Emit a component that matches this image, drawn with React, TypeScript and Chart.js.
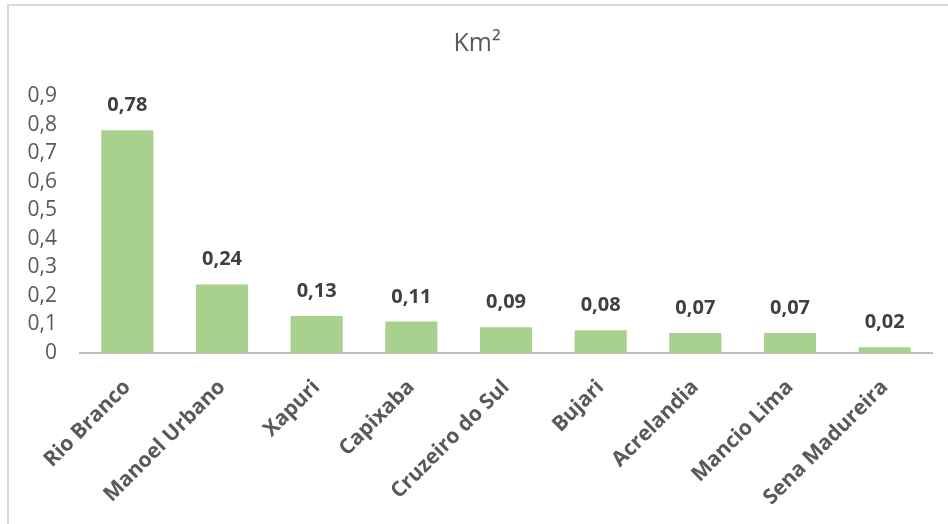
import React, { useEffect, useRef } from "react";
import { Chart, registerables } from "chart.js";

Chart.register(...registerables);

const categories = [
  "Rio Branco",
  "Manoel Urbano",
  "Xapuri",
  "Capixaba",
  "Cruzeiro do Sul",
  "Bujari",
  "Acrelandia",
  "Mancio Lima",
  "Sena Madureira",
];
const areaKm2 = [0.78, 0.24, 0.13, 0.11, 0.09, 0.08, 0.07, 0.07, 0.02];
const chartTitle = "Km²";

const fmt = (v: number, d: number) => v.toFixed(d).replace(".", ",");

const dataLabelPlugin = {
  id: "dataLabels",
  afterDatasetsDraw(chart: any) {
    const ctx = chart.ctx;
    const meta = chart.getDatasetMeta(0);
    ctx.save();
    ctx.font = "bold 20px 'Open Sans'";
    ctx.fillStyle = "#404040";
    ctx.textAlign = "center";
    ctx.textBaseline = "alphabetic";
    meta.data.forEach((bar: any, i: number) => {
      ctx.fillText(fmt(areaKm2[i], 2), bar.x, bar.y - 19);
    });
    ctx.restore();
  },
};

export default function App() {
  const ref = useRef<HTMLCanvasElement>(null);
  useEffect(() => {
    if (!ref.current) return;
    const chart = new Chart(ref.current, {
      type: "bar",
      data: {
        labels: categories,
        datasets: [
          {
            data: areaKm2,
            backgroundColor: "#A9D18E",
            borderWidth: 0,
            categoryPercentage: 1,
            barPercentage: 0.55,
          },
        ],
      },
      options: {
        animation: false,
        responsive: false,
        maintainAspectRatio: false,
        layout: { padding: { top: 0, right: 16, bottom: 0, left: 22 } },
        plugins: {
          legend: { display: false },
          tooltip: { enabled: false },
          title: {
            display: true,
            text: chartTitle,
            color: "#595959",
            font: { family: "'Open Sans'", size: 25, weight: "normal" },
            padding: { top: 29, bottom: 37 },
          },
        },
        scales: {
          x: {
            grid: { display: false },
            border: { display: true, color: "#BFBFBF", width: 2 },
            ticks: {
              color: "#595959",
              font: { family: "'Open Sans'", size: 21, weight: "bold" },
              minRotation: 45,
              maxRotation: 45,
              padding: 14,
              autoSkip: false,
            },
            afterFit: (s: any) => {
              s.height = 171;
            },
          },
          y: {
            min: 0,
            max: 0.9,
            grid: { display: false },
            border: { display: false },
            ticks: {
              stepSize: 0.1,
              autoSkip: false,
              color: "#595959",
              font: { family: "'Open Sans'", size: 21 },
              padding: 15,
              callback: (v: any) => (Number(v) === 0 ? "0" : fmt(Number(v), 1)),
            },
            afterFit: (s: any) => {
              s.width = 58;
            },
          },
        },
      },
      plugins: [dataLabelPlugin],
    });
    return () => chart.destroy();
  }, []);

  return (
    <div style={{ position: "fixed", left: 0, top: 0, width: 948, height: 524, background: "#fff" }}>
      <div
        style={{
          position: "absolute",
          left: 7,
          top: 4,
          width: 940,
          height: 520,
          borderTop: "2px solid #D9D9D9",
          borderLeft: "2px solid #D9D9D9",
        }}
      />
      <canvas ref={ref} width={948} height={524} style={{ position: "absolute", left: 0, top: 0 }} />
    </div>
  );
}
